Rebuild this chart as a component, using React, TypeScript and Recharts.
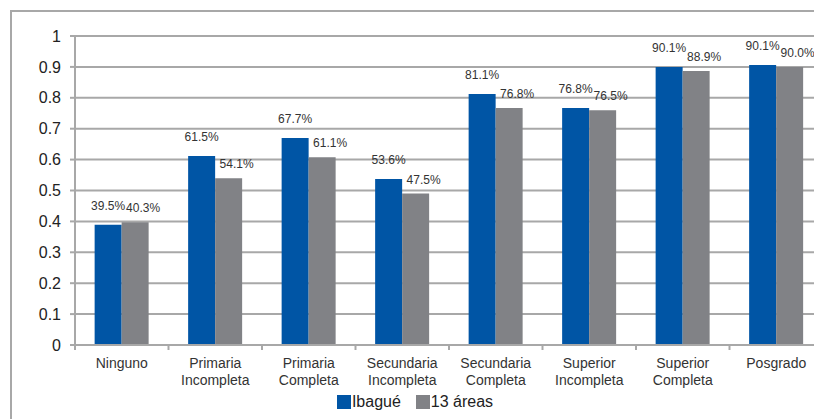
import { Bar, BarChart, CartesianGrid, LabelList, Legend, XAxis, YAxis } from 'recharts';

const categories = [
  'Ninguno',
  'Primaria Incompleta',
  'Primaria Completa',
  'Secundaria Incompleta',
  'Secundaria Completa',
  'Superior Incompleta',
  'Superior Completa',
  'Posgrado',
];
const ibague = [0.389, 0.612, 0.67, 0.537, 0.812, 0.767, 0.9, 0.906];
const areas = [0.397, 0.54, 0.608, 0.49, 0.767, 0.76, 0.887, 0.9];
const ibagueLabels = ['39.5%', '61.5%', '67.7%', '53.6%', '81.1%', '76.8%', '90.1%', '90.1%'];
const areasLabels = ['40.3%', '54.1%', '61.1%', '47.5%', '76.8%', '76.5%', '88.9%', '90.0%'];
const yTicks = [0, 0.1, 0.2, 0.3, 0.4, 0.5, 0.6, 0.7, 0.8, 0.9, 1];
const seriesOrder = ['ibague', 'areas'];

const data = categories.map((name, i) => ({
  name,
  ibague: ibague[i],
  areas: areas[i],
  ibagueLabel: ibagueLabels[i],
  areasLabel: areasLabels[i],
}));

const FONT = '"Liberation Sans", Arial, sans-serif';
const BLUE = '#0055a5';
const GRAY = '#818286';
const LINE = '#a8a8a8';

const WIDTH = 830;
const HEIGHT = 419;
const MARGIN = { top: 36, right: 7, left: 0, bottom: 6 };
const Y_WIDTH = 75;
const STEP = (WIDTH - MARGIN.left - MARGIN.right - Y_WIDTH) / categories.length;

const CategoryTick = ({ x, y, payload }) => {
  const words = String(payload.value).split(' ');
  const left = x - STEP / 2;
  return (
    <g>
      <line x1={left} y1={y} x2={left} y2={y + 5} stroke={LINE} strokeWidth={2} />
      <text textAnchor='middle' fill='#333' fontSize={14} fontFamily={FONT}>
        {words.map((w, i) => (
          <tspan key={i} x={x} y={y + 23 + i * 17}>
            {w}
          </tspan>
        ))}
      </text>
    </g>
  );
};

const makeLabel = (offset, dx) => (props) => {
  const { x, y, width, value } = props;
  return (
    <text
      x={x + width / 2 + dx}
      y={y - offset}
      textAnchor='middle'
      fill='#333'
      fontSize={12}
      fontFamily={FONT}
    >
      {value}
    </text>
  );
};

const renderLegend = (props) => {
  const items = [...(props.payload || [])].sort(
    (a, b) => seriesOrder.indexOf(a.dataKey) - seriesOrder.indexOf(b.dataKey)
  );
  return (
    <div
      style={{
        display: 'flex',
        justifyContent: 'center',
        alignItems: 'center',
        paddingLeft: 7,
        fontFamily: FONT,
        fontSize: 16,
        color: '#222',
      }}
    >
      {items.map((entry, i) => (
        <span key={i} style={{ display: 'flex', alignItems: 'center', marginRight: i === 0 ? 15 : 0 }}>
          <span style={{ width: 14, height: 14, background: entry.color, marginRight: 1 }} />
          {entry.value}
        </span>
      ))}
    </div>
  );
};

const App = () => {
  return (
    <div style={{ position: 'relative', width: 814, height: 411, overflow: 'hidden' }}>
      <div
        style={{
          position: 'absolute',
          left: 2,
          top: 2,
          width: 900,
          height: 600,
          border: `2px solid ${LINE}`,
        }}
      />
      <div style={{ position: 'absolute', left: -8, top: -8 }}>
        <BarChart
          width={WIDTH}
          height={HEIGHT}
          data={data}
          margin={MARGIN}
          barCategoryGap='21%'
          barGap={0}
        >
          <CartesianGrid vertical={false} stroke={LINE} strokeWidth={2} />
          <XAxis
            dataKey='name'
            interval={0}
            height={48}
            tickSize={0}
            tickMargin={0}
            axisLine={{ stroke: LINE, strokeWidth: 2 }}
            tick={<CategoryTick />}
          />
          <YAxis
            width={Y_WIDTH}
            domain={[0, 1]}
            ticks={yTicks}
            interval={0}
            tickSize={5}
            tickMargin={9}
            axisLine={{ stroke: LINE, strokeWidth: 2 }}
            tickLine={{ stroke: LINE, strokeWidth: 2 }}
            tick={{ fill: '#222', fontSize: 16, fontFamily: FONT }}
          />
          <Legend verticalAlign='bottom' height={20} content={renderLegend} />
          <Bar dataKey='ibague' name='Ibagué' fill={BLUE} isAnimationActive={false}>
            <LabelList dataKey='ibagueLabel' content={makeLabel(15, 0)} />
          </Bar>
          <Bar dataKey='areas' name='13 áreas' fill={GRAY} isAnimationActive={false}>
            <LabelList dataKey='areasLabel' content={makeLabel(10, 8)} />
          </Bar>
        </BarChart>
      </div>
    </div>
  );
};

export default App;
